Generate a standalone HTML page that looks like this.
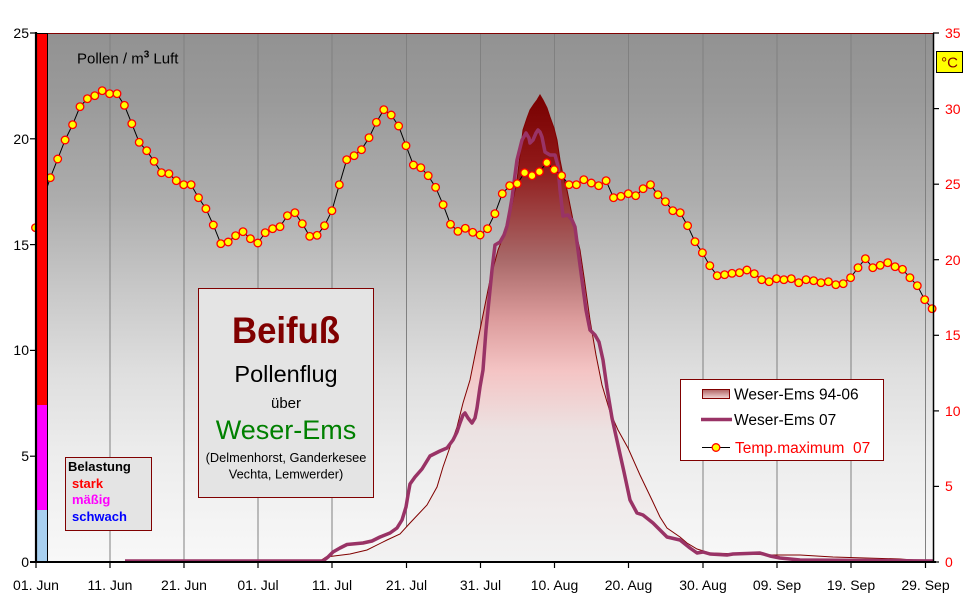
<!DOCTYPE html>
<html><head><meta charset="utf-8"><style>
html,body{margin:0;padding:0;background:#fff;}
svg{display:block;font-family:"Liberation Sans",Arial,sans-serif;}
</style></head><body>
<svg width="968" height="602" viewBox="0 0 968 602" xmlns="http://www.w3.org/2000/svg">
<defs>
<linearGradient id="bg" gradientUnits="userSpaceOnUse" x1="0" y1="33" x2="0" y2="562">
<stop offset="0" stop-color="#929292"/><stop offset="0.127" stop-color="#9a9a9a"/><stop offset="0.316" stop-color="#adadad"/><stop offset="0.486" stop-color="#c8c8c8"/><stop offset="0.637" stop-color="#dedede"/><stop offset="0.788" stop-color="#ececec"/><stop offset="1" stop-color="#f8f8f8"/>
</linearGradient>
<linearGradient id="ar" gradientUnits="userSpaceOnUse" x1="0" y1="95" x2="0" y2="562">
<stop offset="0" stop-color="#780000"/><stop offset="0.15" stop-color="#901818"/><stop offset="0.35" stop-color="#a86868"/><stop offset="0.48" stop-color="#dc9c9c"/><stop offset="0.59" stop-color="#f4c4c4"/><stop offset="0.72" stop-color="#ece2e2"/><stop offset="1" stop-color="#f2f2f2"/>
</linearGradient>
<linearGradient id="sw" x1="0" y1="0" x2="0" y2="1">
<stop offset="0" stop-color="#b06060"/><stop offset="1" stop-color="#f4d8d8"/>
</linearGradient>
</defs>
<rect x="0" y="0" width="968" height="602" fill="#fff"/>
<rect x="36" y="33" width="897" height="529" fill="url(#bg)"/>
<g stroke="#808080" stroke-width="1">
<line x1="110" y1="33" x2="110" y2="562"/><line x1="184" y1="33" x2="184" y2="562"/><line x1="258" y1="33" x2="258" y2="562"/><line x1="332" y1="33" x2="332" y2="562"/><line x1="406.5" y1="33" x2="406.5" y2="562"/><line x1="480.5" y1="33" x2="480.5" y2="562"/><line x1="554.5" y1="33" x2="554.5" y2="562"/><line x1="628.5" y1="33" x2="628.5" y2="562"/><line x1="703" y1="33" x2="703" y2="562"/><line x1="777" y1="33" x2="777" y2="562"/><line x1="851" y1="33" x2="851" y2="562"/><line x1="925.5" y1="33" x2="925.5" y2="562"/>
</g>
<line x1="36" y1="33.5" x2="933" y2="33.5" stroke="#800000" stroke-width="1"/>
<path d="M36,562 L300,562 L320,561 L326,557 L350,554 L367,550 L387,540 L400,534 L410,523 L427,505 L437,487 L443,467 L450,447 L457,427 L463,403 L470,380 L480,330 L490,280 L498,250 L507,227 L512,205 L517,180 L520,155 L523,130 L527,118 L530,110 L534,104 L537,100 L540,95 L543,100 L547,108 L550,117 L554,128 L557,140 L560,160 L563,175 L567,190 L573,220 L580,250 L584,277 L590,320 L596,355 L602,385 L610,412 L618,430 L628,448 L640,475 L652,500 L660,517 L667,528 L680,537 L687,543 L697,549 L710,553 L773,555 L800,555 L833,557 L900,559 L933,561.5 L933,562 Z" fill="url(#ar)" stroke="#800000" stroke-width="1"/>
<polyline fill="none" stroke="#993366" stroke-width="3.5" stroke-linejoin="round" points="125,561 300,561 323,561 328,557 333,552 340,548 347,544.5 363,543 372,541 380,537 390,533 397,528 402,520 406,507 408,495 410,484 415,477 422,469 430,456 440,451 447,448 453,440 457,432 460,423 463,415 465,413 468,418 472,423 475,418 477,408 480,387 483,370 486,330 490,290 492,270 495,245 500,242 504,235 507,226 510,210 512,198 515,175 517,160 520,148 522,140 526,133 529,138 530,143 533,140 536,133 538,130 540,132 542,137 545,152 550,155 555,155 558,166 560,190 563,216 568,215 572,220 575,227 578,250 582,280 586,310 590,330 595,335 599,342 603,360 607,388 612,418 618,445 624,472 630,500 637,513 643,515 653,523 667,537 680,540 690,548 697,553 703,552 710,554 727,555 733,554 760,553 770,556 780,558 800,560 933,561"/>
<polyline fill="none" stroke="#000" stroke-width="1" points="35.5,227.7 42.9,200 50.3,177.7 57.7,159 65.1,140 72.6,124.7 80,106.7 87.4,98.7 94.8,95.7 102.2,90.7 109.6,93.7 117,93.7 124.4,105.3 131.8,123.7 139.2,142.3 146.7,150.7 154.1,161.3 161.5,172.7 168.9,173.7 176.3,180.7 183.7,184.7 191.1,184.7 198.5,197.7 205.9,208.7 213.3,225 220.8,243.7 228.2,242 235.6,235.7 243,231.7 250.4,238.7 257.8,243 265.2,232.7 272.6,228.7 280,226.7 287.4,215.7 294.9,212.7 302.3,223.7 309.7,236.3 317.1,235.3 324.5,225.7 331.9,210.7 339.3,184.7 346.7,159.7 354.1,155.7 361.5,149.7 369,137.7 376.4,122.3 383.8,109.7 391.2,115 398.6,126 406,145.7 413.4,165 420.8,167.7 428.2,175.7 435.6,187.3 443.1,204.7 450.5,224.3 457.9,231.3 465.3,228.3 472.7,232.3 480.1,235 487.5,228.7 494.9,213.7 502.3,193.7 509.7,185.7 517.2,183.7 524.6,172.7 532,175.7 539.4,171.7 546.8,162.7 554.2,169.7 561.6,175.7 569,184.7 576.4,184.7 583.8,179.7 591.3,183 598.7,185.7 606.1,180.7 613.5,197.7 620.9,196.3 628.3,193.7 635.7,195.7 643.1,188.7 650.5,184.7 657.9,194.7 665.4,201.7 672.8,210.7 680.2,212.7 687.6,225.7 695,241.7 702.4,252.7 709.8,265.7 717.2,275.7 724.6,274.7 732,273.3 739.5,272.7 746.9,270 754.3,273.7 761.7,279.7 769.1,281.7 776.5,278.7 783.9,279.7 791.3,278.7 798.7,282.7 806.1,279.7 813.6,280.7 821,282.7 828.4,281.7 835.8,284.7 843.2,283.7 850.6,277.7 858,267.7 865.4,258.7 872.8,267.7 880.2,265.3 887.7,262.7 895.1,266.7 902.5,269.3 909.9,277.7 917.3,285.7 924.7,299.7 932.1,308.7"/>
<g fill="#ffff00" stroke="#ff0000" stroke-width="1.3">
<circle cx="35.5" cy="227.7" r="3.8"/><circle cx="42.9" cy="200" r="3.8"/><circle cx="50.3" cy="177.7" r="3.8"/><circle cx="57.7" cy="159" r="3.8"/><circle cx="65.1" cy="140" r="3.8"/><circle cx="72.6" cy="124.7" r="3.8"/><circle cx="80" cy="106.7" r="3.8"/><circle cx="87.4" cy="98.7" r="3.8"/><circle cx="94.8" cy="95.7" r="3.8"/><circle cx="102.2" cy="90.7" r="3.8"/>
<circle cx="109.6" cy="93.7" r="3.8"/><circle cx="117" cy="93.7" r="3.8"/><circle cx="124.4" cy="105.3" r="3.8"/><circle cx="131.8" cy="123.7" r="3.8"/><circle cx="139.2" cy="142.3" r="3.8"/><circle cx="146.7" cy="150.7" r="3.8"/><circle cx="154.1" cy="161.3" r="3.8"/><circle cx="161.5" cy="172.7" r="3.8"/><circle cx="168.9" cy="173.7" r="3.8"/><circle cx="176.3" cy="180.7" r="3.8"/>
<circle cx="183.7" cy="184.7" r="3.8"/><circle cx="191.1" cy="184.7" r="3.8"/><circle cx="198.5" cy="197.7" r="3.8"/><circle cx="205.9" cy="208.7" r="3.8"/><circle cx="213.3" cy="225" r="3.8"/><circle cx="220.8" cy="243.7" r="3.8"/><circle cx="228.2" cy="242" r="3.8"/><circle cx="235.6" cy="235.7" r="3.8"/><circle cx="243" cy="231.7" r="3.8"/><circle cx="250.4" cy="238.7" r="3.8"/>
<circle cx="257.8" cy="243" r="3.8"/><circle cx="265.2" cy="232.7" r="3.8"/><circle cx="272.6" cy="228.7" r="3.8"/><circle cx="280" cy="226.7" r="3.8"/><circle cx="287.4" cy="215.7" r="3.8"/><circle cx="294.9" cy="212.7" r="3.8"/><circle cx="302.3" cy="223.7" r="3.8"/><circle cx="309.7" cy="236.3" r="3.8"/><circle cx="317.1" cy="235.3" r="3.8"/><circle cx="324.5" cy="225.7" r="3.8"/>
<circle cx="331.9" cy="210.7" r="3.8"/><circle cx="339.3" cy="184.7" r="3.8"/><circle cx="346.7" cy="159.7" r="3.8"/><circle cx="354.1" cy="155.7" r="3.8"/><circle cx="361.5" cy="149.7" r="3.8"/><circle cx="369" cy="137.7" r="3.8"/><circle cx="376.4" cy="122.3" r="3.8"/><circle cx="383.8" cy="109.7" r="3.8"/><circle cx="391.2" cy="115" r="3.8"/><circle cx="398.6" cy="126" r="3.8"/>
<circle cx="406" cy="145.7" r="3.8"/><circle cx="413.4" cy="165" r="3.8"/><circle cx="420.8" cy="167.7" r="3.8"/><circle cx="428.2" cy="175.7" r="3.8"/><circle cx="435.6" cy="187.3" r="3.8"/><circle cx="443.1" cy="204.7" r="3.8"/><circle cx="450.5" cy="224.3" r="3.8"/><circle cx="457.9" cy="231.3" r="3.8"/><circle cx="465.3" cy="228.3" r="3.8"/><circle cx="472.7" cy="232.3" r="3.8"/>
<circle cx="480.1" cy="235" r="3.8"/><circle cx="487.5" cy="228.7" r="3.8"/><circle cx="494.9" cy="213.7" r="3.8"/><circle cx="502.3" cy="193.7" r="3.8"/><circle cx="509.7" cy="185.7" r="3.8"/><circle cx="517.2" cy="183.7" r="3.8"/><circle cx="524.6" cy="172.7" r="3.8"/><circle cx="532" cy="175.7" r="3.8"/><circle cx="539.4" cy="171.7" r="3.8"/><circle cx="546.8" cy="162.7" r="3.8"/>
<circle cx="554.2" cy="169.7" r="3.8"/><circle cx="561.6" cy="175.7" r="3.8"/><circle cx="569" cy="184.7" r="3.8"/><circle cx="576.4" cy="184.7" r="3.8"/><circle cx="583.8" cy="179.7" r="3.8"/><circle cx="591.3" cy="183" r="3.8"/><circle cx="598.7" cy="185.7" r="3.8"/><circle cx="606.1" cy="180.7" r="3.8"/><circle cx="613.5" cy="197.7" r="3.8"/><circle cx="620.9" cy="196.3" r="3.8"/>
<circle cx="628.3" cy="193.7" r="3.8"/><circle cx="635.7" cy="195.7" r="3.8"/><circle cx="643.1" cy="188.7" r="3.8"/><circle cx="650.5" cy="184.7" r="3.8"/><circle cx="657.9" cy="194.7" r="3.8"/><circle cx="665.4" cy="201.7" r="3.8"/><circle cx="672.8" cy="210.7" r="3.8"/><circle cx="680.2" cy="212.7" r="3.8"/><circle cx="687.6" cy="225.7" r="3.8"/><circle cx="695" cy="241.7" r="3.8"/>
<circle cx="702.4" cy="252.7" r="3.8"/><circle cx="709.8" cy="265.7" r="3.8"/><circle cx="717.2" cy="275.7" r="3.8"/><circle cx="724.6" cy="274.7" r="3.8"/><circle cx="732" cy="273.3" r="3.8"/><circle cx="739.5" cy="272.7" r="3.8"/><circle cx="746.9" cy="270" r="3.8"/><circle cx="754.3" cy="273.7" r="3.8"/><circle cx="761.7" cy="279.7" r="3.8"/><circle cx="769.1" cy="281.7" r="3.8"/>
<circle cx="776.5" cy="278.7" r="3.8"/><circle cx="783.9" cy="279.7" r="3.8"/><circle cx="791.3" cy="278.7" r="3.8"/><circle cx="798.7" cy="282.7" r="3.8"/><circle cx="806.1" cy="279.7" r="3.8"/><circle cx="813.6" cy="280.7" r="3.8"/><circle cx="821" cy="282.7" r="3.8"/><circle cx="828.4" cy="281.7" r="3.8"/><circle cx="835.8" cy="284.7" r="3.8"/><circle cx="843.2" cy="283.7" r="3.8"/>
<circle cx="850.6" cy="277.7" r="3.8"/><circle cx="858" cy="267.7" r="3.8"/><circle cx="865.4" cy="258.7" r="3.8"/><circle cx="872.8" cy="267.7" r="3.8"/><circle cx="880.2" cy="265.3" r="3.8"/><circle cx="887.7" cy="262.7" r="3.8"/><circle cx="895.1" cy="266.7" r="3.8"/><circle cx="902.5" cy="269.3" r="3.8"/><circle cx="909.9" cy="277.7" r="3.8"/><circle cx="917.3" cy="285.7" r="3.8"/>
<circle cx="924.7" cy="299.7" r="3.8"/><circle cx="932.1" cy="308.7" r="3.8"/>
</g>
<!-- Belastung bar -->
<rect x="36" y="33" width="11.5" height="372" fill="#ff0000"/>
<rect x="36" y="405" width="11.5" height="105" fill="#ff00ff"/>
<rect x="36" y="510" width="11.5" height="52" fill="#a8d0f0"/>
<rect x="36.5" y="33.5" width="11" height="528" fill="none" stroke="#000" stroke-width="1"/>
<!-- axes -->
<line x1="36" y1="32" x2="36" y2="563" stroke="#000" stroke-width="2.2"/>
<line x1="30" y1="562" x2="936" y2="562" stroke="#000" stroke-width="2"/>
<line x1="933.5" y1="33" x2="933.5" y2="563" stroke="#000" stroke-width="1.5"/>
<g stroke="#000" stroke-width="1.2">
<line x1="30" y1="33" x2="36" y2="33"/><line x1="30" y1="138.8" x2="36" y2="138.8"/><line x1="30" y1="244.6" x2="36" y2="244.6"/><line x1="30" y1="350.4" x2="36" y2="350.4"/><line x1="30" y1="456.2" x2="36" y2="456.2"/>
<line x1="933" y1="33" x2="939" y2="33"/><line x1="933" y1="108.6" x2="939" y2="108.6"/><line x1="933" y1="184.2" x2="939" y2="184.2"/><line x1="933" y1="259.7" x2="939" y2="259.7"/><line x1="933" y1="335.3" x2="939" y2="335.3"/><line x1="933" y1="410.9" x2="939" y2="410.9"/><line x1="933" y1="486.4" x2="939" y2="486.4"/><line x1="933" y1="562" x2="939" y2="562"/>
<line x1="36" y1="562" x2="36" y2="568"/><line x1="110" y1="562" x2="110" y2="568"/><line x1="184" y1="562" x2="184" y2="568"/><line x1="258" y1="562" x2="258" y2="568"/><line x1="332" y1="562" x2="332" y2="568"/><line x1="406.5" y1="562" x2="406.5" y2="568"/><line x1="480.5" y1="562" x2="480.5" y2="568"/><line x1="554.5" y1="562" x2="554.5" y2="568"/><line x1="628.5" y1="562" x2="628.5" y2="568"/><line x1="703" y1="562" x2="703" y2="568"/><line x1="777" y1="562" x2="777" y2="568"/><line x1="851" y1="562" x2="851" y2="568"/><line x1="925.5" y1="562" x2="925.5" y2="568"/>
</g>
<g font-size="14" fill="#000" text-anchor="end">
<text x="29" y="38">25</text><text x="29" y="144">20</text><text x="29" y="250">15</text><text x="29" y="355">10</text><text x="29" y="461">5</text><text x="29" y="567">0</text>
</g>
<g font-size="14" fill="#ff0000">
<text x="945" y="38">35</text><text x="945" y="114">30</text><text x="945" y="189">25</text><text x="945" y="265">20</text><text x="945" y="340">15</text><text x="945" y="416">10</text><text x="945" y="491">5</text><text x="945" y="567">0</text>
</g>
<g font-size="14" fill="#000" text-anchor="middle">
<text x="36" y="590">01. Jun</text><text x="110" y="590">11. Jun</text><text x="184" y="590">21. Jun</text><text x="258" y="590">01. Jul</text><text x="332" y="590">11. Jul</text><text x="406.5" y="590">21. Jul</text><text x="480.5" y="590">31. Jul</text><text x="554.5" y="590">10. Aug</text><text x="628.5" y="590">20. Aug</text><text x="703" y="590">30. Aug</text><text x="777" y="590">09. Sep</text><text x="851" y="590">19. Sep</text><text x="925.5" y="590">29. Sep</text>
</g>
<!-- °C box -->
<rect x="936.5" y="51.5" width="26" height="21" fill="#ffff00" stroke="#000" stroke-width="1"/>
<text x="949.5" y="67.5" font-size="15" fill="#800000" text-anchor="middle">°C</text>
<!-- Pollen label -->
<text x="77" y="63.5" font-size="15" fill="#000">Pollen / m<tspan font-size="10" font-weight="bold" dy="-6">3</tspan><tspan dy="6"> Luft</tspan></text>
<!-- Title box -->
<rect x="198.5" y="288.5" width="175" height="209" fill="#e4e4e4" stroke="#800000" stroke-width="1"/>
<text x="286" y="343" font-size="37" font-weight="bold" fill="#800000" text-anchor="middle" textLength="108" lengthAdjust="spacingAndGlyphs">Beifuß</text>
<text x="286" y="382" font-size="23.5" fill="#000" text-anchor="middle">Pollenflug</text>
<text x="286" y="408" font-size="15" fill="#000" text-anchor="middle">über</text>
<text x="286" y="439" font-size="27" fill="#008000" text-anchor="middle">Weser-Ems</text>
<text x="286" y="462" font-size="12.8" fill="#000" text-anchor="middle">(Delmenhorst, Ganderkesee</text>
<text x="286" y="478.5" font-size="12.8" fill="#000" text-anchor="middle">Vechta, Lemwerder)</text>
<!-- Belastung box -->
<rect x="65.5" y="457.5" width="86" height="73" fill="#e4e4e4" stroke="#800000" stroke-width="1"/>
<g font-size="13" font-weight="bold">
<text x="68" y="471" fill="#000">Belastung</text>
<text x="72" y="488" fill="#ff0000">stark</text>
<text x="72" y="504" fill="#ff00ff">mäßig</text>
<text x="72" y="521" fill="#0000ff">schwach</text>
</g>
<!-- Legend -->
<rect x="680.5" y="379.5" width="203" height="81" fill="#ffffff" stroke="#800000" stroke-width="1"/>
<rect x="702.5" y="389.5" width="27" height="9" fill="url(#sw)" stroke="#800000" stroke-width="1"/>
<text x="734" y="399.5" font-size="15.5" fill="#000">Weser-Ems 94-06</text>
<line x1="701" y1="419.5" x2="732" y2="419.5" stroke="#993366" stroke-width="3.5"/>
<text x="734" y="425" font-size="15.5" fill="#000">Weser-Ems 07</text>
<line x1="702" y1="447.5" x2="730" y2="447.5" stroke="#000" stroke-width="1"/>
<circle cx="716" cy="447.5" r="3.8" fill="#ffff00" stroke="#ff0000" stroke-width="1.3"/>
<text x="735" y="453" font-size="15.5" fill="#ff0000" xml:space="preserve">Temp.maximum  07</text>
</svg>
</body></html>
